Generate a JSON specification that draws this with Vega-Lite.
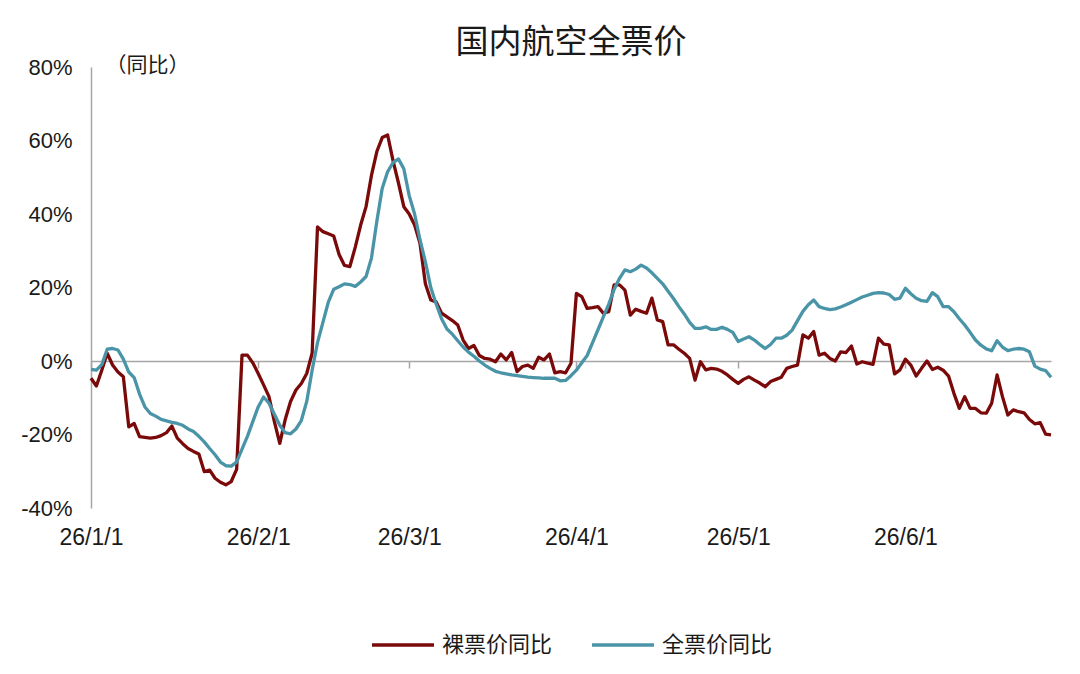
{
  "$schema": "https://vega.github.io/schema/vega-lite/v6.json",
  "width": 960,
  "height": 441,
  "autosize": {"type": "none"},
  "padding": {"left": 91, "top": 67, "right": 29, "bottom": 166},
  "background": "white",
  "title": {
    "text": "国内航空全票价",
    "font": "Noto Sans CJK SC",
    "fontSize": 33,
    "fontWeight": "normal",
    "color": "#1a1a1a",
    "anchor": "middle",
    "offset": -6
  },
  "data": {
    "values": [
      {"date": "2026-01-01", "裸票价同比": -4.7, "全票价同比": -2.3},
      {"date": "2026-01-02", "裸票价同比": -6.8, "全票价同比": -2.5},
      {"date": "2026-01-03", "裸票价同比": -2.5, "全票价同比": -1.0},
      {"date": "2026-01-04", "裸票价同比": 2.1, "全票价同比": 3.2},
      {"date": "2026-01-05", "裸票价同比": -1.1, "全票价同比": 3.4},
      {"date": "2026-01-06", "裸票价同比": -3.0, "全票价同比": 3.0},
      {"date": "2026-01-07", "裸票价同比": -4.3, "全票价同比": 0.5},
      {"date": "2026-01-08", "裸票价同比": -17.9, "全票价同比": -3.0},
      {"date": "2026-01-09", "裸票价同比": -17.0, "全票价同比": -4.5},
      {"date": "2026-01-10", "裸票价同比": -20.6, "全票价同比": -9.0},
      {"date": "2026-01-11", "裸票价同比": -20.8, "全票价同比": -12.5},
      {"date": "2026-01-12", "裸票价同比": -21.0, "全票价同比": -14.3},
      {"date": "2026-01-13", "裸票价同比": -20.8, "全票价同比": -15.0},
      {"date": "2026-01-14", "裸票价同比": -20.3, "全票价同比": -15.9},
      {"date": "2026-01-15", "裸票价同比": -19.5, "全票价同比": -16.3},
      {"date": "2026-01-16", "裸票价同比": -17.7, "全票价同比": -16.7},
      {"date": "2026-01-17", "裸票价同比": -21.0, "全票价同比": -17.0},
      {"date": "2026-01-18", "裸票价同比": -22.5, "全票价同比": -17.5},
      {"date": "2026-01-19", "裸票价同比": -23.8, "全票价同比": -18.5},
      {"date": "2026-01-20", "裸票价同比": -24.6, "全票价同比": -19.2},
      {"date": "2026-01-21", "裸票价同比": -25.3, "全票价同比": -20.5},
      {"date": "2026-01-22", "裸票价同比": -30.1, "全票价同比": -22.0},
      {"date": "2026-01-23", "裸票价同比": -29.7, "全票价同比": -23.8},
      {"date": "2026-01-24", "裸票价同比": -31.9, "全票价同比": -25.5},
      {"date": "2026-01-25", "裸票价同比": -33.0, "全票价同比": -27.5},
      {"date": "2026-01-26", "裸票价同比": -33.7, "全票价同比": -28.5},
      {"date": "2026-01-27", "裸票价同比": -32.8, "全票价同比": -28.6},
      {"date": "2026-01-28", "裸票价同比": -29.5, "全票价同比": -27.5},
      {"date": "2026-01-29", "裸票价同比": 1.6, "全票价同比": -24.0},
      {"date": "2026-01-30", "裸票价同比": 1.6, "全票价同比": -20.5},
      {"date": "2026-01-31", "裸票价同比": -0.5, "全票价同比": -16.5},
      {"date": "2026-02-01", "裸票价同比": -3.4, "全票价同比": -12.5},
      {"date": "2026-02-02", "裸票价同比": -6.5, "全票价同比": -9.8},
      {"date": "2026-02-03", "裸票价同比": -9.7, "全票价同比": -11.5},
      {"date": "2026-02-04", "裸票价同比": -16.5, "全票价同比": -14.5},
      {"date": "2026-02-05", "裸票价同比": -22.4, "全票价同比": -17.5},
      {"date": "2026-02-06", "裸票价同比": -16.0, "全票价同比": -19.5},
      {"date": "2026-02-07", "裸票价同比": -11.0, "全票价同比": -19.8},
      {"date": "2026-02-08", "裸票价同比": -7.9, "全票价同比": -18.5},
      {"date": "2026-02-09", "裸票价同比": -6.1, "全票价同比": -16.2},
      {"date": "2026-02-10", "裸票价同比": -3.4, "全票价同比": -11.0},
      {"date": "2026-02-11", "裸票价同比": 2.1, "全票价同比": -2.5},
      {"date": "2026-02-12", "裸票价同比": 36.5, "全票价同比": 5.0},
      {"date": "2026-02-13", "裸票价同比": 35.2, "全票价同比": 10.5},
      {"date": "2026-02-14", "裸票价同比": 34.6, "全票价同比": 16.0},
      {"date": "2026-02-15", "裸票价同比": 34.0, "全票价同比": 19.5},
      {"date": "2026-02-16", "裸票价同比": 29.0, "全票价同比": 20.2},
      {"date": "2026-02-17", "裸票价同比": 26.0, "全票价同比": 21.0},
      {"date": "2026-02-18", "裸票价同比": 25.7, "全票价同比": 20.8},
      {"date": "2026-02-19", "裸票价同比": 31.0, "全票价同比": 20.3},
      {"date": "2026-02-20", "裸票价同比": 37.0, "全票价同比": 21.5},
      {"date": "2026-02-21", "裸票价同比": 42.0, "全票价同比": 23.0},
      {"date": "2026-02-22", "裸票价同比": 50.5, "全票价同比": 28.0},
      {"date": "2026-02-23", "裸票价同比": 57.0, "全票价同比": 38.0},
      {"date": "2026-02-24", "裸票价同比": 60.8, "全票价同比": 47.0},
      {"date": "2026-02-25", "裸票价同比": 61.5, "全票价同比": 51.5},
      {"date": "2026-02-26", "裸票价同比": 54.5, "全票价同比": 54.0},
      {"date": "2026-02-27", "裸票价同比": 48.5, "全票价同比": 55.0},
      {"date": "2026-02-28", "裸票价同比": 42.0, "全票价同比": 52.3},
      {"date": "2026-03-01", "裸票价同比": 40.0, "全票价同比": 45.0},
      {"date": "2026-03-02", "裸票价同比": 37.0, "全票价同比": 40.0},
      {"date": "2026-03-03", "裸票价同比": 32.0, "全票价同比": 33.0},
      {"date": "2026-03-04", "裸票价同比": 21.0, "全票价同比": 27.0},
      {"date": "2026-03-05", "裸票价同比": 16.6, "全票价同比": 20.0},
      {"date": "2026-03-06", "裸票价同比": 16.1, "全票价同比": 15.5},
      {"date": "2026-03-07", "裸票价同比": 13.0, "全票价同比": 11.5},
      {"date": "2026-03-08", "裸票价同比": 12.0, "全票价同比": 8.7},
      {"date": "2026-03-09", "裸票价同比": 11.0, "全票价同比": 7.3},
      {"date": "2026-03-10", "裸票价同比": 9.8, "全票价同比": 5.5},
      {"date": "2026-03-11", "裸票价同比": 5.7, "全票价同比": 3.8},
      {"date": "2026-03-12", "裸票价同比": 3.4, "全票价同比": 2.4},
      {"date": "2026-03-13", "裸票价同比": 4.2, "全票价同比": 1.3},
      {"date": "2026-03-14", "裸票价同比": 1.5, "全票价同比": 0.0},
      {"date": "2026-03-15", "裸票价同比": 0.7, "全票价同比": -1.1},
      {"date": "2026-03-16", "裸票价同比": 0.5, "全票价同比": -2.0},
      {"date": "2026-03-17", "裸票价同比": -0.2, "全票价同比": -2.8},
      {"date": "2026-03-18", "裸票价同比": 1.9, "全票价同比": -3.2},
      {"date": "2026-03-19", "裸票价同比": 0.3, "全票价同比": -3.5},
      {"date": "2026-03-20", "裸票价同比": 2.3, "全票价同比": -3.8},
      {"date": "2026-03-21", "裸票价同比": -2.9, "全票价同比": -4.0},
      {"date": "2026-03-22", "裸票价同比": -1.5, "全票价同比": -4.2},
      {"date": "2026-03-23", "裸票价同比": -1.1, "全票价同比": -4.4},
      {"date": "2026-03-24", "裸票价同比": -2.0, "全票价同比": -4.5},
      {"date": "2026-03-25", "裸票价同比": 1.0, "全票价同比": -4.6},
      {"date": "2026-03-26", "裸票价同比": 0.3, "全票价同比": -4.7},
      {"date": "2026-03-27", "裸票价同比": 1.9, "全票价同比": -4.7},
      {"date": "2026-03-28", "裸票价同比": -3.2, "全票价同比": -4.7},
      {"date": "2026-03-29", "裸票价同比": -2.9, "全票价同比": -5.4},
      {"date": "2026-03-30", "裸票价同比": -3.2, "全票价同比": -5.3},
      {"date": "2026-03-31", "裸票价同比": -0.6, "全票价同比": -4.0},
      {"date": "2026-04-01", "裸票价同比": 18.4, "全票价同比": -2.5},
      {"date": "2026-04-02", "裸票价同比": 17.5, "全票价同比": -0.5},
      {"date": "2026-04-03", "裸票价同比": 14.3, "全票价同比": 1.5},
      {"date": "2026-04-04", "裸票价同比": 14.5, "全票价同比": 5.0},
      {"date": "2026-04-05", "裸票价同比": 14.8, "全票价同比": 8.5},
      {"date": "2026-04-06", "裸票价同比": 13.0, "全票价同比": 12.0},
      {"date": "2026-04-07", "裸票价同比": 13.4, "全票价同比": 15.5},
      {"date": "2026-04-08", "裸票价同比": 20.7, "全票价同比": 19.5},
      {"date": "2026-04-09", "裸票价同比": 20.7, "全票价同比": 22.5},
      {"date": "2026-04-10", "裸票价同比": 19.3, "全票价同比": 24.8},
      {"date": "2026-04-11", "裸票价同比": 12.5, "全票价同比": 24.3},
      {"date": "2026-04-12", "裸票价同比": 14.1, "全票价同比": 25.0},
      {"date": "2026-04-13", "裸票价同比": 13.5, "全票价同比": 26.1},
      {"date": "2026-04-14", "裸票价同比": 13.0, "全票价同比": 25.3},
      {"date": "2026-04-15", "裸票价同比": 17.1, "全票价同比": 24.0},
      {"date": "2026-04-16", "裸票价同比": 11.2, "全票价同比": 22.5},
      {"date": "2026-04-17", "裸票价同比": 10.7, "全票价同比": 21.0},
      {"date": "2026-04-18", "裸票价同比": 4.4, "全票价同比": 19.0},
      {"date": "2026-04-19", "裸票价同比": 4.4, "全票价同比": 17.0},
      {"date": "2026-04-20", "裸票价同比": 3.2, "全票价同比": 14.8},
      {"date": "2026-04-21", "裸票价同比": 2.1, "全票价同比": 12.8},
      {"date": "2026-04-22", "裸票价同比": 0.7, "全票价同比": 10.5},
      {"date": "2026-04-23", "裸票价同比": -5.2, "全票价同比": 8.9},
      {"date": "2026-04-24", "裸票价同比": -0.2, "全票价同比": 8.9},
      {"date": "2026-04-25", "裸票价同比": -2.4, "全票价同比": 9.3},
      {"date": "2026-04-26", "裸票价同比": -2.0, "全票价同比": 8.6},
      {"date": "2026-04-27", "裸票价同比": -2.2, "全票价同比": 8.6},
      {"date": "2026-04-28", "裸票价同比": -2.8, "全票价同比": 9.2},
      {"date": "2026-04-29", "裸票价同比": -3.8, "全票价同比": 8.6},
      {"date": "2026-04-30", "裸票价同比": -5.0, "全票价同比": 7.8},
      {"date": "2026-05-01", "裸票价同比": -6.1, "全票价同比": 5.3},
      {"date": "2026-05-02", "裸票价同比": -5.0, "全票价同比": 6.0},
      {"date": "2026-05-03", "裸票价同比": -4.3, "全票价同比": 6.6},
      {"date": "2026-05-04", "裸票价同比": -5.2, "全票价同比": 5.7},
      {"date": "2026-05-05", "裸票价同比": -6.0, "全票价同比": 4.5},
      {"date": "2026-05-06", "裸票价同比": -7.0, "全票价同比": 3.4},
      {"date": "2026-05-07", "裸票价同比": -5.6, "全票价同比": 4.5},
      {"date": "2026-05-08", "裸票价同比": -5.0, "全票价同比": 6.2},
      {"date": "2026-05-09", "裸票价同比": -4.4, "全票价同比": 6.2},
      {"date": "2026-05-10", "裸票价同比": -2.0, "全票价同比": 7.0},
      {"date": "2026-05-11", "裸票价同比": -1.5, "全票价同比": 8.4},
      {"date": "2026-05-12", "裸票价同比": -1.1, "全票价同比": 11.0},
      {"date": "2026-05-13", "裸票价同比": 7.1, "全票价同比": 13.5},
      {"date": "2026-05-14", "裸票价同比": 6.2, "全票价同比": 15.3},
      {"date": "2026-05-15", "裸票价同比": 8.0, "全票价同比": 16.6},
      {"date": "2026-05-16", "裸票价同比": 1.6, "全票价同比": 14.8},
      {"date": "2026-05-17", "裸票价同比": 2.1, "全票价同比": 14.3},
      {"date": "2026-05-18", "裸票价同比": 0.7, "全票价同比": 14.0},
      {"date": "2026-05-19", "裸票价同比": 0.0, "全票价同比": 14.2},
      {"date": "2026-05-20", "裸票价同比": 2.5, "全票价同比": 14.7},
      {"date": "2026-05-21", "裸票价同比": 2.3, "全票价同比": 15.3},
      {"date": "2026-05-22", "裸票价同比": 4.1, "全票价同比": 16.0},
      {"date": "2026-05-23", "裸票价同比": -0.8, "全票价同比": 16.7},
      {"date": "2026-05-24", "裸票价同比": -0.2, "全票价同比": 17.4},
      {"date": "2026-05-25", "裸票价同比": -0.6, "全票价同比": 17.9},
      {"date": "2026-05-26", "裸票价同比": -0.9, "全票价同比": 18.4},
      {"date": "2026-05-27", "裸票价同比": 6.2, "全票价同比": 18.6},
      {"date": "2026-05-28", "裸票价同比": 4.6, "全票价同比": 18.5},
      {"date": "2026-05-29", "裸票价同比": 4.4, "全票价同比": 18.1},
      {"date": "2026-05-30", "裸票价同比": -3.5, "全票价同比": 16.8},
      {"date": "2026-05-31", "裸票价同比": -2.4, "全票价同比": 17.1},
      {"date": "2026-06-01", "裸票价同比": 0.5, "全票价同比": 19.8},
      {"date": "2026-06-02", "裸票价同比": -1.1, "全票价同比": 18.3},
      {"date": "2026-06-03", "裸票价同比": -4.1, "全票价同比": 17.1},
      {"date": "2026-06-04", "裸票价同比": -2.0, "全票价同比": 16.4},
      {"date": "2026-06-05", "裸票价同比": 0.0, "全票价同比": 16.2},
      {"date": "2026-06-06", "裸票价同比": -2.3, "全票价同比": 18.6},
      {"date": "2026-06-07", "裸票价同比": -1.7, "全票价同比": 17.5},
      {"date": "2026-06-08", "裸票价同比": -2.5, "全票价同比": 14.8},
      {"date": "2026-06-09", "裸票价同比": -4.1, "全票价同比": 14.8},
      {"date": "2026-06-10", "裸票价同比": -8.8, "全票价同比": 13.4},
      {"date": "2026-06-11", "裸票价同比": -12.9, "全票价同比": 11.5},
      {"date": "2026-06-12", "裸票价同比": -9.7, "全票价同比": 9.8},
      {"date": "2026-06-13", "裸票价同比": -12.9, "全票价同比": 7.8},
      {"date": "2026-06-14", "裸票价同比": -12.9, "全票价同比": 5.7},
      {"date": "2026-06-15", "裸票价同比": -14.1, "全票价同比": 4.3},
      {"date": "2026-06-16", "裸票价同比": -14.2, "全票价同比": 3.3},
      {"date": "2026-06-17", "裸票价同比": -11.5, "全票价同比": 2.8},
      {"date": "2026-06-18", "裸票价同比": -3.8, "全票价同比": 5.5},
      {"date": "2026-06-19", "裸票价同比": -9.7, "全票价同比": 3.8},
      {"date": "2026-06-20", "裸票价同比": -14.7, "全票价同比": 2.8},
      {"date": "2026-06-21", "裸票价同比": -13.3, "全票价同比": 3.2},
      {"date": "2026-06-22", "裸票价同比": -13.8, "全票价同比": 3.4},
      {"date": "2026-06-23", "裸票价同比": -14.1, "全票价同比": 3.2},
      {"date": "2026-06-24", "裸票价同比": -15.9, "全票价同比": 2.5},
      {"date": "2026-06-25", "裸票价同比": -17.1, "全票价同比": -1.4},
      {"date": "2026-06-26", "裸票价同比": -16.8, "全票价同比": -2.2},
      {"date": "2026-06-27", "裸票价同比": -19.9, "全票价同比": -2.6},
      {"date": "2026-06-28", "裸票价同比": -20.1, "全票价同比": -4.4}
    ]
  },
  "transform": [
    {"fold": ["裸票价同比", "全票价同比"], "as": ["series", "value"]}
  ],
  "encoding": {
    "x": {
      "field": "date",
      "type": "temporal",
      "scale": {
        "type": "utc",
        "domain": [
          {"year": 2026, "month": 1, "date": 1, "utc": true},
          {"year": 2026, "month": 6, "date": 28, "utc": true}
        ]
      },
      "axis": {
        "orient": "bottom",
        "offset": -147,
        "title": null,
        "grid": false,
        "values": [
          {"year": 2026, "month": 1, "date": 1, "utc": true},
          {"year": 2026, "month": 2, "date": 1, "utc": true},
          {"year": 2026, "month": 3, "date": 1, "utc": true},
          {"year": 2026, "month": 4, "date": 1, "utc": true},
          {"year": 2026, "month": 5, "date": 1, "utc": true},
          {"year": 2026, "month": 6, "date": 1, "utc": true}
        ],
        "labelExpr": "utcFormat(datum.value, '%y/%-m/%-d')",
        "labelFlush": false,
        "labelOverlap": false,
        "labelFont": "Liberation Sans",
        "labelFontSize": 23,
        "labelColor": "#1a1a1a",
        "labelPadding": 158,
        "domainColor": "#a6a6a6",
        "domainWidth": 1.5,
        "tickColor": "#a6a6a6",
        "tickWidth": 1.5,
        "tickSize": 7
      }
    },
    "y": {
      "field": "value",
      "type": "quantitative",
      "scale": {"domain": [-40, 80], "nice": false, "zero": false},
      "axis": {
        "values": [-40, -20, 0, 20, 40, 60, 80],
        "labelExpr": "datum.value + '%'",
        "labelFlush": false,
        "labelOverlap": false,
        "labelFont": "Liberation Sans",
        "labelFontSize": 22,
        "labelColor": "#1a1a1a",
        "labelPadding": 19,
        "ticks": false,
        "grid": false,
        "domainColor": "#a6a6a6",
        "domainWidth": 1.5,
        "title": "（同比）",
        "titleAngle": 0,
        "titleAlign": "left",
        "titleBaseline": "middle",
        "titleX": 14,
        "titleY": -2,
        "titleFont": "Noto Sans CJK SC",
        "titleFontSize": 21,
        "titleFontWeight": "normal",
        "titleColor": "#1a1a1a"
      }
    },
    "color": {
      "field": "series",
      "type": "nominal",
      "scale": {
        "domain": ["裸票价同比", "全票价同比"],
        "range": ["#7a0a0a", "#4a94a8"]
      },
      "legend": {
        "orient": "none",
        "legendX": 279,
        "legendY": 545,
        "direction": "horizontal",
        "title": null,
        "symbolType": "stroke",
        "symbolSize": 3844,
        "symbolStrokeWidth": 3.5,
        "labelFont": "Noto Sans CJK SC",
        "labelFontSize": 22,
        "labelColor": "#1a1a1a",
        "labelOffset": 6,
        "columnPadding": 32
      }
    }
  },
  "layer": [
    {
      "transform": [{"filter": "datum.series === '裸票价同比'"}],
      "mark": {"type": "line", "strokeWidth": 3.3, "strokeJoin": "round"}
    },
    {
      "transform": [{"filter": "datum.series === '全票价同比'"}],
      "mark": {"type": "line", "strokeWidth": 3.3, "strokeJoin": "round"}
    }
  ],
  "config": {"view": {"stroke": null}}
}
